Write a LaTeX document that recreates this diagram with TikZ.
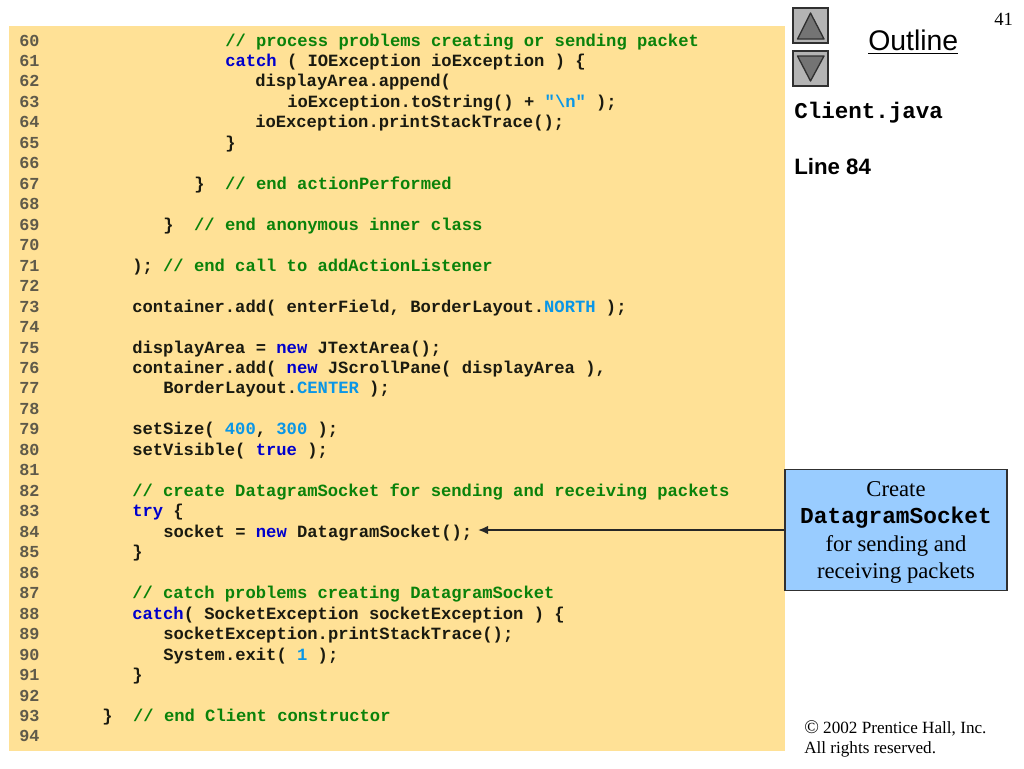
\documentclass[tikz,border=0pt]{standalone}
\usepackage{fontspec}
\usetikzlibrary{arrows.meta}
\setmainfont{Liberation Serif}
\setsansfont{Liberation Sans}
\setmonofont{Liberation Mono}
\definecolor{panel}{HTML}{FFE196}
\definecolor{callout}{HTML}{99CCFF}
\definecolor{cmt}{HTML}{0A820A}
\definecolor{kw}{HTML}{0000CC}
\definecolor{lit}{HTML}{0A96E6}
\definecolor{lnum}{HTML}{5F5A4A}
\definecolor{codeink}{HTML}{1A1A10}
\definecolor{btn}{HTML}{B4B4B4}
\definecolor{tri}{HTML}{747474}
\definecolor{edge}{HTML}{303030}
\newcommand{\cm}[1]{\textcolor{cmt}{#1}}
\newcommand{\kw}[1]{\textcolor{kw}{#1}}
\newcommand{\lt}[1]{\textcolor{lit}{#1}}
\newcommand{\codeline}[3]{%
  \node[numtext] (n#1) at (19,{46+(#1-60)*20.47}) {#1};
  \node[codetext] (c#1) at (#2,{46+(#1-60)*20.47}) {#3};}
\newcommand{\numline}[1]{\node[numtext] (n#1) at (19,{46+(#1-60)*20.47}) {#1};}
\tikzset{
  x=0.75pt,y=-0.75pt,
  numtext/.style={anchor=base west,inner sep=0pt,text=lnum,font=\ttfamily\bfseries\fontsize{12.6pt}{15pt}\selectfont},
  codetext/.style={anchor=base west,inner sep=0pt,text=codeink,font=\ttfamily\bfseries\fontsize{12.87pt}{15pt}\selectfont},
  navbtn/.style={fill=btn,draw=edge,line width=0.8pt},
  navtri/.style={fill=tri,draw=edge,line width=1pt,line join=round},
  sidetext/.style={anchor=base west,inner sep=0pt,text=black},
  calloutbox/.style={fill=callout,draw=edge,line width=0.8pt,minimum width=166.5pt,minimum height=90.5pt,inner sep=0pt},
  boxline/.style={anchor=base,inner sep=0pt,text=black,font=\fontsize{17pt}{20pt}\selectfont},
}
\begin{document}
\begin{tikzpicture}
\useasboundingbox (0,0) rectangle (1024,768);
\fill[white] (0,0) rectangle (1024,768);
\fill[panel] (9,26) rectangle (785,751);
\codeline{60}{225}{\cm{// process problems creating or sending packet}}
\codeline{61}{225}{\kw{catch} ( IOException ioException ) \{}
\codeline{62}{255}{displayArea.append(}
\codeline{63}{287}{ioException.toString() + \lt{"\textbackslash n"} );}
\codeline{64}{255}{ioException.printStackTrace();}
\codeline{65}{225}{\}}
\numline{66}
\codeline{67}{194}{\}\ \ \cm{// end actionPerformed}}
\numline{68}
\codeline{69}{163}{\}\ \ \cm{// end anonymous inner class}}
\numline{70}
\codeline{71}{132}{); \cm{// end call to addActionListener}}
\numline{72}
\codeline{73}{132}{container.add( enterField, BorderLayout.\lt{NORTH} );}
\numline{74}
\codeline{75}{132}{displayArea = \kw{new} JTextArea();}
\codeline{76}{132}{container.add( \kw{new} JScrollPane( displayArea ),}
\codeline{77}{163}{BorderLayout.\lt{CENTER} );}
\numline{78}
\codeline{79}{132}{setSize( \lt{400}, \lt{300} );}
\codeline{80}{132}{setVisible( \kw{true} );}
\numline{81}
\codeline{82}{132}{\cm{// create DatagramSocket for sending and receiving packets}}
\codeline{83}{132}{\kw{try} \{}
\codeline{84}{163}{socket = \kw{new} DatagramSocket();}
\codeline{85}{132}{\}}
\numline{86}
\codeline{87}{132}{\cm{// catch problems creating DatagramSocket}}
\codeline{88}{132}{\kw{catch}( SocketException socketException ) \{}
\codeline{89}{163}{socketException.printStackTrace();}
\codeline{90}{163}{System.exit( \lt{1} );}
\codeline{91}{132}{\}}
\numline{92}
\codeline{93}{102}{\}\ \ \cm{// end Client constructor}}
\numline{94}
% navigation
\draw[navbtn] (793,8) rectangle (828,43);
\draw[navtri] (810.5,13) -- (824,39) -- (797.5,39) -- cycle;
\draw[navbtn] (793,51) rectangle (828,86);
\draw[navtri] (810.5,81) -- (824,56) -- (797.5,56) -- cycle;
\node[sidetext,font=\sffamily\fontsize{21.3pt}{25pt}\selectfont] (outline) at (868,50) {Outline};
\draw[black,line width=1pt] (868,53.5) -- (958,53.5);
\node[sidetext,font=\fontsize{14pt}{16pt}\selectfont] (page) at (994,25) {41};
\node[sidetext,font=\ttfamily\bfseries\fontsize{16.9pt}{20pt}\selectfont] (file) at (794,118) {Client.java};
\node[sidetext,font=\sffamily\bfseries\fontsize{16.7pt}{20pt}\selectfont] (lineref) at (794,174) {Line 84};
% callout
\node[calloutbox] (box) at (896,530) {};
\node[boxline] (b1) at (896,496) {Create};
\node[boxline,font=\ttfamily\bfseries\fontsize{17.1pt}{20pt}\selectfont] (b2) at (896,523) {DatagramSocket};
\node[boxline] (b3) at (896,551) {for sending and};
\node[boxline] (b4) at (896,578) {receiving packets};
\coordinate (tip) at (478,530);
\draw[-{Latex[length=7.5pt,width=6.5pt]},line width=1.3pt,draw=black!85] (box.west) -- (tip);
% copyright
\node[sidetext,font=\fontsize{12.85pt}{15pt}\selectfont] (cr1) at (804,733) {{\fontsize{14.5pt}{15pt}\selectfont ©} 2002 Prentice Hall, Inc.};
\node[sidetext,font=\fontsize{12.85pt}{15pt}\selectfont] (cr2) at (804,753) {All rights reserved.};
\end{tikzpicture}
\end{document}
